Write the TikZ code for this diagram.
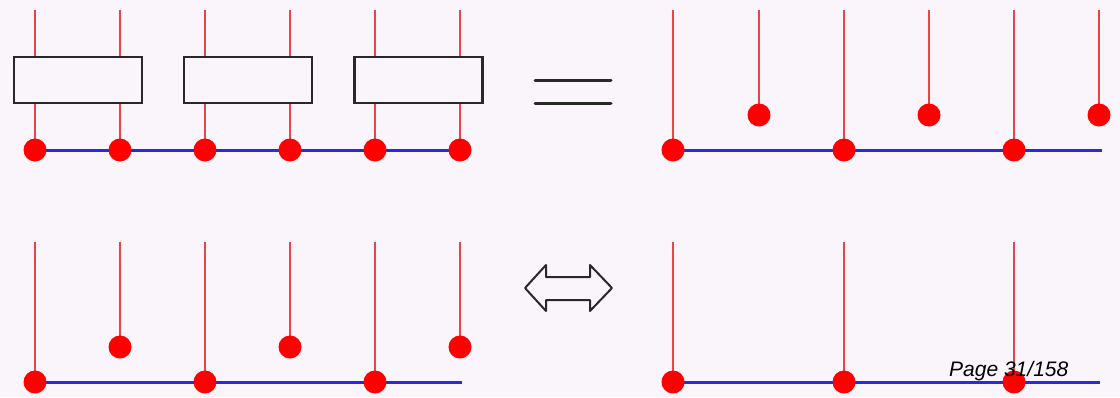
\documentclass[tikz,border=0pt]{standalone}
\usepackage{fontspec}
\setmainfont{Liberation Sans}
\definecolor{bg}{RGB}{250,245,250}
\definecolor{stemred}{RGB}{232,70,70}
\definecolor{dotred}{RGB}{255,0,0}
\definecolor{axisblue}{RGB}{40,40,230}
\definecolor{boxgray}{RGB}{40,40,40}
\begin{document}
\begin{tikzpicture}[x=1pt,y=-1pt,
  stem/.style={draw=stemred,line width=1.8pt},
  axis/.style={draw=axisblue,line width=3pt},
  dot/.style={circle,fill=dotred,inner sep=0pt,minimum size=23pt},
  blk/.style={draw=boxgray,line width=2.2pt,fill=bg,minimum width=128pt,minimum height=46pt,inner sep=0pt},
  eqline/.style={draw=boxgray,line width=3pt,line cap=round},
  dblarrow/.style={draw=boxgray,line width=2pt,line join=round,fill=bg},
  pagelabel/.style={font=\fontsize{21}{24}\selectfont\itshape,text=black,inner sep=0pt,anchor=base west}]
\fill[bg] (0,0) rectangle (1120,397);
\useasboundingbox (0,0) rectangle (1120,397);
% ---- top left: filter bank
\foreach \i/\x in {1/35,2/120,3/205,4/290,5/375,6/460}{
  \coordinate (tlt\i) at (\x,10);
  \coordinate (tlb\i) at (\x,150);
}
\foreach \i in {1,...,6}{ \draw[stem] (tlt\i) -- (tlb\i); }
\draw[axis] (tlb1) -- (tlb6);
\node[blk] (box1) at (78,80) {};
\node[blk] (box2) at (248,80) {};
\node[blk] (box3) at (418.5,80) {};
\foreach \i in {1,...,6}{ \node[dot] (tld\i) at (tlb\i) {}; }
% ---- equals sign
\coordinate (eqa1) at (535,80); \coordinate (eqb1) at (611,80);
\coordinate (eqa2) at (535,103); \coordinate (eqb2) at (611,103);
\draw[eqline] (eqa1) -- (eqb1);
\draw[eqline] (eqa2) -- (eqb2);
% ---- top right
\foreach \i/\x in {1/673,3/844,5/1014}{
  \coordinate (trt\i) at (\x,10);
  \coordinate (trb\i) at (\x,150);
  \draw[stem] (trt\i) -- (trb\i);
}
\foreach \i/\x in {2/759,4/929,6/1099}{
  \coordinate (trt\i) at (\x,10);
  \coordinate (trb\i) at (\x,115);
  \draw[stem] (trt\i) -- (trb\i);
}
\coordinate (trend) at (1102,150);
\draw[axis] (trb1) -- (trend);
\foreach \i in {1,...,6}{ \node[dot] (trd\i) at (trb\i) {}; }
% ---- double arrow
\coordinate (da1) at (525,288);
\coordinate (da2) at (546,265);
\coordinate (da3) at (546,277);
\coordinate (da4) at (590,277);
\coordinate (da5) at (590,265);
\coordinate (da6) at (612,288);
\coordinate (da7) at (590,311);
\coordinate (da8) at (590,300);
\coordinate (da9) at (546,300);
\coordinate (da10) at (546,311);
\draw[dblarrow] (da1) -- (da2) -- (da3) -- (da4) -- (da5) -- (da6) -- (da7) -- (da8) -- (da9) -- (da10) -- cycle;
% ---- bottom left
\foreach \i/\x in {1/35,3/205,5/375}{
  \coordinate (blt\i) at (\x,242);
  \coordinate (blb\i) at (\x,382);
  \draw[stem] (blt\i) -- (blb\i);
}
\foreach \i/\x in {2/120,4/290,6/460}{
  \coordinate (blt\i) at (\x,242);
  \coordinate (blb\i) at (\x,347);
  \draw[stem] (blt\i) -- (blb\i);
}
\coordinate (blend) at (462,382);
\draw[axis] (blb1) -- (blend);
\foreach \i in {1,...,6}{ \node[dot] (bld\i) at (blb\i) {}; }
% ---- bottom right
\foreach \i/\x in {1/673,2/844,3/1014}{
  \coordinate (brt\i) at (\x,242);
  \coordinate (brb\i) at (\x,382);
  \draw[stem] (brt\i) -- (brb\i);
}
\coordinate (brend) at (1100,382);
\draw[axis] (brb1) -- (brend);
\foreach \i in {1,...,3}{ \node[dot] (brd\i) at (brb\i) {}; }
% ---- page label
\node[pagelabel] (page) at (949,376) {Page 31/158};
\end{tikzpicture}
\end{document}
